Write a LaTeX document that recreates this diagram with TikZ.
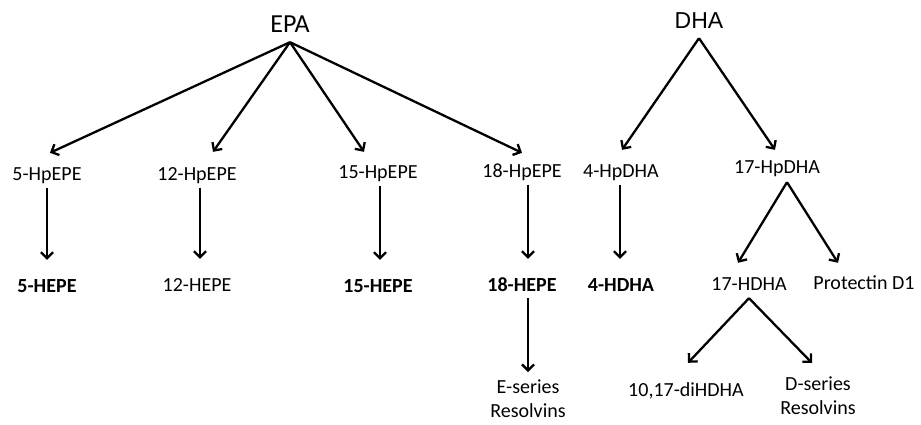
\documentclass[tikz,border=0pt]{standalone}
\usepackage{fontspec}
\setmainfont{Carlito}
\newfontfamily\dhafont{Liberation Sans}
\usetikzlibrary{arrows.meta}
\tikzset{
  lbl/.style={inner sep=0pt, anchor=base, text height=13pt, text depth=4pt,
    font=\fontsize{20}{24}\selectfont},
  prod/.style={lbl, font=\fontsize{20}{24}\selectfont\bfseries},
  multi/.style={inner sep=0pt, anchor=north, align=center,
    font=\fontsize{20}{23.5}\selectfont},
  arr/.style={line width=2.3pt, -{Straight Barb[length=6pt,width=12pt]}},
  vert/.style={arr, shorten <=3.5pt, shorten >=19pt},
}
\begin{document}
\begin{tikzpicture}[x=1pt,y=-1pt]
      \useasboundingbox (0,0) rectangle (921,424);
      % fatty acids
      \node[inner sep=0pt, anchor=base, text depth=5pt,
        font=\fontsize{26}{30}\selectfont] (epa) at (290,32) {EPA};
      \node[inner sep=0pt, anchor=base, text depth=5pt,
        font=\dhafont\fontsize{23}{27}\selectfont] (dha) at (699,28) {DHA};
      % hydroperoxides
      \node[lbl] (h5) at (47,180) {5-HpEPE};
      \node[lbl] (h12) at (197,180) {12-HpEPE};
      \node[lbl] (h15) at (378,178) {15-HpEPE};
      \node[lbl] (h18) at (522,177) {18-HpEPE};
      \node[lbl] (h4d) at (621,177) {4-HpDHA};
      \node[lbl] (h17d) at (777,173) {17-HpDHA};
      % products
      \node[prod] (e5) at (47,292) {5-HEPE};
      \node[lbl] (e12) at (197,291) {12-HEPE};
      \node[prod] (e15) at (378,292) {15-HEPE};
      \node[prod] (e18) at (522,291) {18-HEPE};
      \node[prod] (d4) at (621,291) {4-HDHA};
      \node[lbl] (d17) at (749,290) {17-HDHA};
      \node[lbl] (pd1) at (864,289) {Protectin D1};
      \node[lbl] (dihdha) at (686,396) {10,17-diHDHA};
      \node[multi] (rve) at (528,380) {E-series\\Resolvins};
      \node[multi] (rvd) at (818,377) {D-series\\Resolvins};
      % EPA branch
      \draw[arr] ([yshift=-5pt]epa.south) -- ([xshift=3pt,yshift=14pt]h5.north);
      \draw[arr] ([yshift=-5pt]epa.south) -- ([xshift=16pt,yshift=15pt]h12.north);
      \draw[arr] ([yshift=-5pt]epa.south) -- ([xshift=-14pt,yshift=13pt]h15.north);
      \draw[arr] ([yshift=-5pt]epa.south) -- ([yshift=11pt]h18.north);
      \draw[vert] (h5.south) -- (e5.north);
      \draw[vert] ([xshift=3pt]h12.south) -- ([xshift=3pt]e12.north);
      \draw[vert] ([xshift=2pt]h15.south) -- ([xshift=2pt]e15.north);
      \draw[vert] ([xshift=6pt]h18.south) -- ([xshift=6pt]e18.north);
      \draw[arr, shorten <=3pt, shorten >=8pt] ([xshift=6pt]e18.south) -- (rve.north);
      % DHA branch
      \draw[arr] ([yshift=-5pt]dha.south) -- ([xshift=1pt,yshift=14pt]h4d.north);
      \draw[arr] ([yshift=-5pt]dha.south) -- ([xshift=-2pt,yshift=10pt]h17d.north);
      \draw[vert] ([xshift=-1pt]h4d.south) -- ([xshift=-1pt]d4.north);
      \draw[arr] ([xshift=10pt,yshift=-5pt]h17d.south) -- ([xshift=-11pt,yshift=14pt]d17.north);
      \draw[arr] ([xshift=10pt,yshift=-5pt]h17d.south) -- ([xshift=-26pt,yshift=13pt]pd1.north);
      \draw[arr] ([yshift=-4pt]d17.south) -- ([xshift=2pt,yshift=20pt]dihdha.north);
      \draw[arr] ([yshift=-4pt]d17.south) -- ([xshift=-6pt,yshift=14pt]rvd.north);
\end{tikzpicture}
\end{document}
